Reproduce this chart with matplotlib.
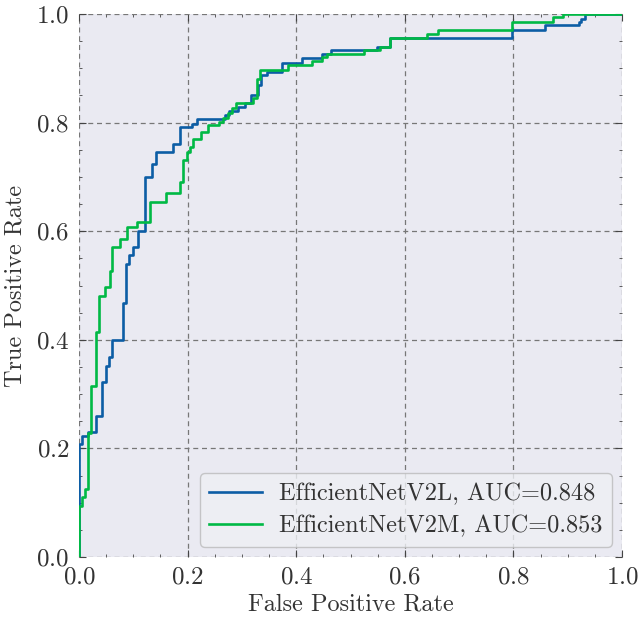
import matplotlib
matplotlib.use("Agg")
import matplotlib.pyplot as plt
from matplotlib.ticker import MultipleLocator

# ---- data ----
l_fpr = [0.0, 0.0, 0.0055, 0.016, 0.031, 0.042, 0.049, 0.055, 0.061, 0.081, 0.087,
         0.093, 0.099, 0.109, 0.122, 0.135, 0.141, 0.174, 0.186, 0.208, 0.217,
         0.269, 0.276, 0.293, 0.306, 0.317, 0.329, 0.335, 0.346, 0.373, 0.410,
         0.447, 0.465, 0.548, 0.573, 0.797, 0.858, 0.920, 0.925, 0.932, 1.0]
l_tpr = [0.0, 0.208, 0.223, 0.231, 0.260, 0.322, 0.352, 0.368, 0.399, 0.467, 0.540,
         0.557, 0.571, 0.601, 0.700, 0.723, 0.746, 0.760, 0.792, 0.798, 0.806,
         0.814, 0.821, 0.829, 0.836, 0.850, 0.870, 0.887, 0.893, 0.910, 0.919,
         0.926, 0.934, 0.939, 0.955, 0.970, 0.980, 0.985, 0.990, 1.0, 1.0]

m_fpr = [0.0, 0.0, 0.006, 0.011, 0.017, 0.023, 0.031, 0.037, 0.048, 0.057, 0.061,
         0.076, 0.088, 0.106, 0.131, 0.160, 0.186, 0.192, 0.198, 0.204, 0.210,
         0.225, 0.237, 0.257, 0.266, 0.274, 0.281, 0.290, 0.321, 0.327, 0.333,
         0.385, 0.429, 0.447, 0.456, 0.524, 0.554, 0.573, 0.640, 0.662, 0.797,
         0.873, 0.892, 1.0]
m_tpr = [0.0, 0.094, 0.111, 0.125, 0.229, 0.315, 0.414, 0.481, 0.497, 0.526, 0.571,
         0.586, 0.608, 0.617, 0.654, 0.670, 0.691, 0.732, 0.746, 0.755, 0.769,
         0.783, 0.796, 0.801, 0.809, 0.818, 0.827, 0.836, 0.845, 0.881, 0.897,
         0.906, 0.914, 0.921, 0.927, 0.934, 0.939, 0.956, 0.964, 0.970, 0.986,
         0.995, 1.0, 1.0]

labels = ["EfficientNetV2L, AUC=0.848", "EfficientNetV2M, AUC=0.853"]
colors = ["#0C5DA5", "#00B945"]

plt.rcParams["font.family"] = "serif"
plt.rcParams["font.serif"] = ["cmr10"]
plt.rcParams["mathtext.fontset"] = "cm"
plt.rcParams["axes.formatter.use_mathtext"] = True

fig = plt.figure(figsize=(6.41, 6.22), dpi=100)
ax = fig.add_axes([79/641, 1-557/622, 543/641, 543/622])
ax.set_facecolor("#eaeaf2")
for s in ax.spines.values():
    s.set_visible(False)

ax.plot(l_fpr, l_tpr, drawstyle="steps-post", color=colors[0], lw=1.9, label=labels[0])
ax.plot(m_fpr, m_tpr, drawstyle="steps-post", color=colors[1], lw=1.9, label=labels[1])

ax.set_xlim(0, 1)
ax.set_ylim(0, 1)
ax.xaxis.set_major_locator(MultipleLocator(0.2))
ax.yaxis.set_major_locator(MultipleLocator(0.2))
ax.xaxis.set_minor_locator(MultipleLocator(0.05))
ax.yaxis.set_minor_locator(MultipleLocator(0.05))
ax.tick_params(which="both", direction="in", top=True, right=True, colors="#444444",
               labelcolor="#333333")
ax.tick_params(which="major", length=5, width=0.8, labelsize=18, pad=7)
ax.tick_params(which="minor", length=2.5, width=0.6)
ax.grid(True, which="major", linestyle=(0, (4, 3)), color="#777777", lw=0.9)
ax.set_axisbelow(True)

ax.set_xlabel("False Positive Rate", fontsize=17.5, color="#333333", labelpad=3)
ax.set_ylabel("True Positive Rate", fontsize=17.5, color="#333333", labelpad=7)

leg = ax.legend(loc="lower right", fontsize=17.5, frameon=True, fancybox=True,
                handlelength=2.15, handletextpad=0.7, borderaxespad=0.42,
                labelspacing=0.4)
leg.get_frame().set_facecolor("#eef0f4")
leg.get_frame().set_edgecolor("#bbbbbb")
for t in leg.get_texts():
    t.set_color("#333333")

fig.savefig("out.png", dpi=100)
